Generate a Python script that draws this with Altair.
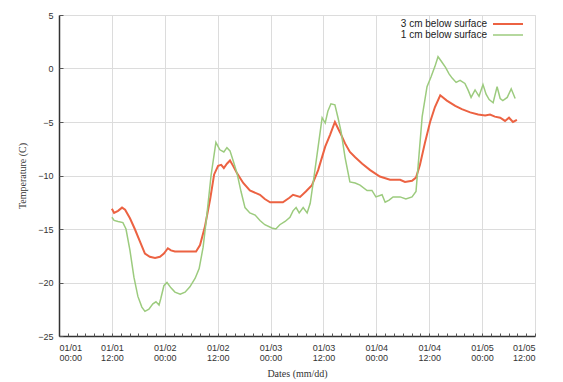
import altair as alt
import pandas as pd

# ---- data (hours since 01/01 00:00, temperature in C) ----
hours_3cm = [12.0, 12.5, 13.4, 14.3, 15.0, 16.1, 17.2, 18.4, 19.5, 20.6, 21.8, 22.9, 23.8, 24.7, 25.4, 26.3,
             28.6, 31.1, 32.0, 33.1, 34.3, 35.2, 36.1, 36.8, 37.4, 38.1, 38.8, 39.5, 40.4, 41.8, 43.3, 45.6,
             46.7, 47.9, 50.8, 52.2, 53.1, 54.7, 56.0, 57.4, 58.8, 60.4, 61.5, 62.6, 63.8, 64.9, 66.0, 67.2,
             68.8, 70.6, 72.8, 75.1, 77.4, 78.5, 80.1, 81.0, 81.9, 83.0, 84.2, 85.3, 86.5, 88.0, 89.9, 91.4,
             93.3, 95.1, 96.7, 97.8, 98.9, 100.1, 101.2, 102.1, 103.0, 103.9]
temp_3cm = [-13.1, -13.5, -13.3, -13.0, -13.2, -14.0, -15.0, -16.2, -17.3, -17.6, -17.7, -17.6, -17.3, -16.8, -17.0, -17.1,
            -17.1, -17.1, -16.5, -14.8, -12.2, -9.9, -9.1, -9.0, -9.3, -8.9, -8.6, -9.1, -9.8, -10.7, -11.4, -11.8,
            -12.2, -12.5, -12.5, -12.1, -11.8, -12.0, -11.5, -10.9, -9.5, -7.3, -6.2, -5.0, -6.0, -7.0, -7.8, -8.3,
            -8.9, -9.5, -10.1, -10.4, -10.4, -10.6, -10.5, -10.2, -9.0, -7.0, -5.0, -3.6, -2.5, -3.0, -3.5, -3.8,
            -4.1, -4.3, -4.4, -4.3, -4.5, -4.6, -4.9, -4.6, -5.0, -4.8]

hours_1cm = [12.0, 12.5, 13.4, 14.5, 15.2, 16.1, 17.0, 17.9, 18.8, 19.5, 20.4, 21.3, 22.0, 22.7, 23.1, 23.8,
             24.5, 25.4, 26.3, 27.5, 28.6, 29.7, 30.9, 31.8, 32.7, 33.6, 34.5, 35.6, 36.5, 37.4, 38.1, 38.8,
             39.5, 40.4, 41.3, 42.2, 43.3, 44.5, 45.6, 46.7, 48.3, 49.2, 50.1, 51.3, 52.4, 53.1, 53.8, 54.5,
             55.4, 56.3, 57.0, 57.9, 58.8, 59.7, 60.4, 61.0, 61.7, 62.6, 63.3, 64.0, 64.9, 66.0, 67.2, 68.3,
             69.9, 71.0, 71.9, 73.3, 74.0, 74.9, 75.8, 77.4, 78.7, 80.1, 81.0, 81.7, 82.4, 83.5, 84.4, 85.3,
             86.0, 86.7, 87.7, 88.5, 89.2, 90.1, 91.0, 92.1, 92.8, 93.5, 94.4, 95.3, 96.2, 96.9, 97.6, 98.5,
             99.4, 100.1, 100.7, 101.7, 102.6, 103.5]
temp_1cm = [-13.9, -14.2, -14.3, -14.4, -15.0, -17.0, -19.5, -21.3, -22.3, -22.7, -22.5, -22.0, -21.8, -22.1, -21.5, -20.3,
            -20.0, -20.5, -20.9, -21.1, -20.9, -20.4, -19.6, -18.7, -16.7, -13.5, -10.0, -6.9, -7.6, -7.8, -7.4, -7.7,
            -8.6, -9.8, -11.5, -13.0, -13.5, -13.7, -14.2, -14.6, -14.9, -15.0, -14.6, -14.3, -13.9, -13.3, -13.0, -13.5,
            -13.0, -13.5, -12.6, -10.0, -7.3, -4.6, -5.1, -4.0, -3.3, -3.4, -4.6, -5.9, -8.3, -10.6, -10.7, -10.9,
            -11.4, -11.4, -12.0, -11.8, -12.5, -12.3, -12.0, -12.0, -12.2, -12.0, -11.5, -8.0, -4.5, -1.7, -0.8, 0.2,
            1.1, 0.7, 0.1, -0.5, -0.9, -1.3, -1.1, -1.4, -2.0, -2.7, -2.0, -2.6, -1.5, -2.4, -2.9, -3.2,
            -1.7, -2.8, -3.0, -2.7, -1.9, -2.8]

series_names = ["3 cm below surface", "1 cm below surface"]
series_colors = ["#ec6242", "#9ccb7e"]

x_tick_hours = [0, 12, 24, 36, 48, 60, 72, 84, 96, 108]
x_tick_dates = ["01/01", "01/01", "01/02", "01/02", "01/03", "01/03", "01/04", "01/04", "01/05", "01/05"]
x_tick_times = ["00:00", "12:00", "00:00", "12:00", "00:00", "12:00", "00:00", "12:00", "00:00", "12:00"]
y_ticks = [-25, -20, -15, -10, -5, 0, 5]
minor_x = list(range(0, 109, 2))

df3 = pd.DataFrame({"h": hours_3cm, "t": temp_3cm, "s": series_names[0]})
df1 = pd.DataFrame({"h": hours_1cm, "t": temp_1cm, "s": series_names[1]})

labels_js = "[" + ",".join(f"['{d}','{t}']" for d, t in zip(x_tick_dates, x_tick_times)) + "]"

LABEL_FONT = "Liberation Sans"
TITLE_FONT = "Liberation Serif"

x_main = alt.X("h:Q", scale=alt.Scale(domain=[0, 108], nice=False, zero=False),
               axis=alt.Axis(values=x_tick_hours, labelExpr=f"{labels_js}[round(datum.value/12)]",
                             title="Dates (mm/dd)", grid=True, gridColor="#dcdcdc", gridWidth=1,
                             tickSize=0, labelPadding=7, labelFont=LABEL_FONT, labelFontSize=9,
                             labelLineHeight=10, labelColor="#333333", titleFont=TITLE_FONT,
                             titleFontSize=10, titleFontWeight="normal", titleColor="#333333",
                             titlePadding=6, domainColor="#333333", domainWidth=1.5))
y_main = alt.Y("t:Q", scale=alt.Scale(domain=[-25, 5], nice=False, zero=False),
               axis=alt.Axis(values=y_ticks, title="Temperature (C)", grid=True, gridColor="#dcdcdc",
                             gridWidth=1, tickSize=0, labelPadding=6, labelFont=LABEL_FONT,
                             labelFontSize=9, labelColor="#333333", titleFont=TITLE_FONT,
                             titleFontSize=10, titleFontWeight="normal", titleColor="#333333",
                             titlePadding=10, domainColor="#333333", domainWidth=1.5))

red = alt.Chart(df3).mark_line(color=series_colors[0], strokeWidth=2).encode(x=x_main, y=y_main)

x_minor = alt.X("h:Q", scale=alt.Scale(domain=[0, 108], nice=False, zero=False),
                axis=alt.Axis(orient="bottom", values=minor_x, labels=False, title=None, grid=False,
                              domain=False, tickSize=3, offset=-3, tickColor="#555555"))
y_minor = alt.Y("t:Q", scale=alt.Scale(domain=[-25, 5], nice=False, zero=False),
                axis=alt.Axis(orient="left", values=y_ticks, labels=False, title=None, grid=False,
                              domain=False, tickSize=4, offset=-4, tickColor="#555555"))

green = alt.Chart(df1).mark_line(color=series_colors[1], strokeWidth=1.5).encode(x=x_minor, y=y_minor)

lines = alt.layer(red, green).resolve_axis(x="independent", y="independent")

leg_rows = [9, 20]
legend_layers = []
for name, col, yy in zip(series_names, series_colors, leg_rows):
    ldf = pd.DataFrame({"s": [name]})
    legend_layers.append(
        alt.Chart(ldf).mark_text(align="right", baseline="middle", font=LABEL_FONT, fontSize=10,
                                 color="#222222")
        .encode(text="s:N", x=alt.value(428), y=alt.value(yy)))
    legend_layers.append(
        alt.Chart(ldf).mark_rule(color=col, strokeWidth=2 if col == series_colors[0] else 1.5)
        .encode(x=alt.value(434), x2=alt.value(464), y=alt.value(yy)))

chart = alt.layer(lines, *legend_layers).properties(
    width=476, height=321,
    autosize=alt.AutoSizeParams(type="none"),
    padding={"left": 51, "top": 7, "right": 20, "bottom": 50},
).configure_view(stroke="#333333", strokeWidth=1.5).configure(background="white")

chart.save("out.html", embed_options={"renderer": "svg", "actions": False})
